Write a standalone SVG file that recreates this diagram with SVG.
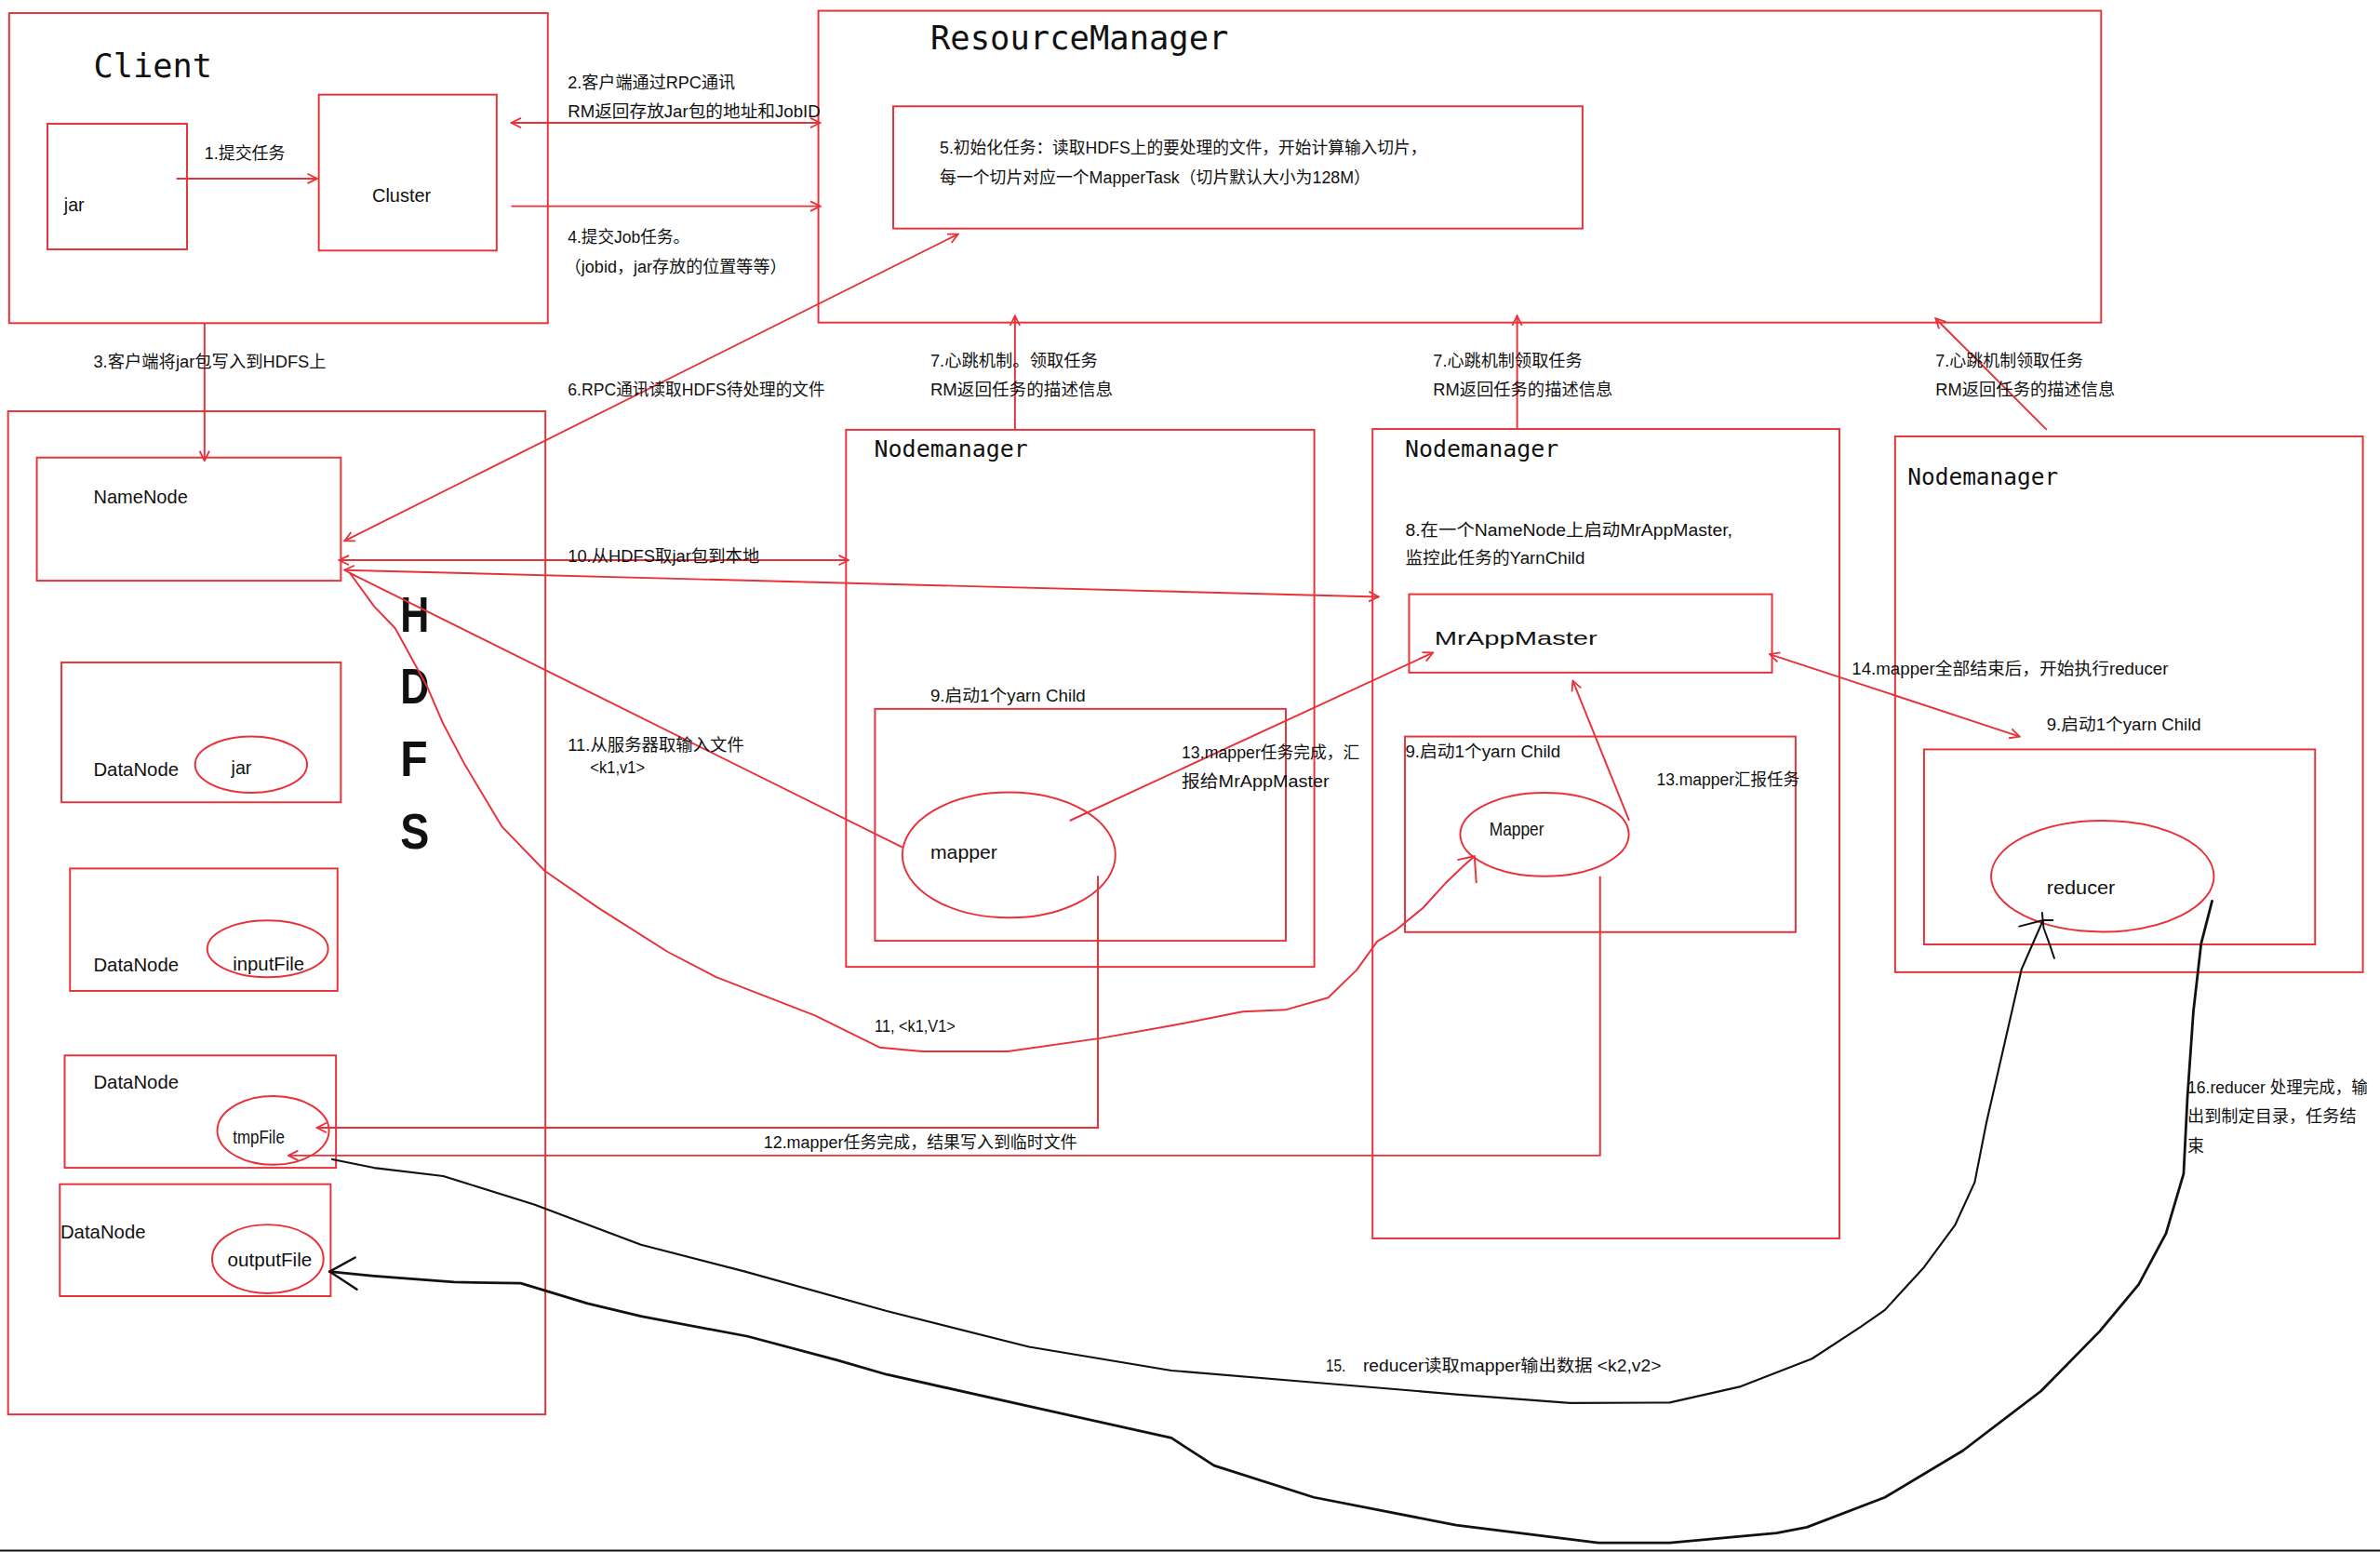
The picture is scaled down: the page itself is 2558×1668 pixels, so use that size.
<svg xmlns="http://www.w3.org/2000/svg" width="2558" height="1668" viewBox="0 0 2558 1668">
<defs>
<style>
.bx{fill:none;stroke:#e8323a;stroke-width:1.2}
.el{fill:none;stroke:#e8323a;stroke-width:1.2}
.ln{fill:none;stroke:#e8323a;stroke-width:1.2}
.bk{fill:none;stroke:#111;stroke-linejoin:round;stroke-linecap:round}
.lb{font-family:"Liberation Sans","Noto Sans CJK SC",sans-serif;font-size:11px;fill:#111}
.nd{font-family:"Liberation Sans","Noto Sans CJK SC",sans-serif;font-size:12px;fill:#111}
.tt{font-family:"DejaVu Sans Mono","Liberation Mono",monospace;fill:#111}
.hd{font-family:"Liberation Sans",sans-serif;font-size:33px;font-weight:bold;fill:#111}
</style>
<marker id="ah" viewBox="0 0 10 10" refX="9" refY="5" markerWidth="8" markerHeight="8" markerUnits="userSpaceOnUse" orient="auto-start-reverse">
<path d="M1,1 L9,5 L1,9" fill="none" stroke="#e8323a" stroke-width="1.4"/>
</marker>
</defs>
<rect x="0" y="0" width="2558" height="1668" fill="#fff"/>
<g transform="scale(1.6355 1.6321)">
<g id="client">
<rect class="bx" x="6" y="8.6" width="354" height="204.2"/>
<text class="tt" x="61.4" y="51" font-size="22" textLength="78" lengthAdjust="spacingAndGlyphs">Client</text>
</g>
<g id="jar-box">
<rect class="bx" x="31.2" y="81.5" width="91.7" height="82.7"/>
<text class="nd" x="42.1" y="138.9">jar</text>
</g>
<g id="cluster">
<rect class="bx" x="209.5" y="62.3" width="116.9" height="102.7"/>
<text class="nd" x="244.6" y="132.8" textLength="38.6" lengthAdjust="spacingAndGlyphs">Cluster</text>
</g>
<g id="resourcemanager">
<rect class="bx" x="537.8" y="7.1" width="843" height="205.3"/>
<text class="tt" x="611.4" y="32.7" font-size="22" textLength="196" lengthAdjust="spacingAndGlyphs">ResourceManager</text>
</g>
<g id="rm-init">
<rect class="bx" x="587" y="70" width="453" height="80.5"/>
<text class="lb" x="617.6" y="101" textLength="320" lengthAdjust="spacingAndGlyphs">5.初始化任务：读取HDFS上的要处理的文件，开始计算输入切片，</text>
<text class="lb" x="617.6" y="120.5" textLength="283" lengthAdjust="spacingAndGlyphs">每一个切片对应一个MapperTask（切片默认大小为128M）</text>
</g>
<g id="hdfs">
<rect class="bx" x="5.3" y="270.8" width="353.1" height="660.6"/>
<text class="hd" x="263" y="416" textLength="19" lengthAdjust="spacingAndGlyphs">H</text>
<text class="hd" x="263" y="463" textLength="19" lengthAdjust="spacingAndGlyphs">D</text>
<text class="hd" x="263" y="511" textLength="18" lengthAdjust="spacingAndGlyphs">F</text>
<text class="hd" x="263" y="559" textLength="19" lengthAdjust="spacingAndGlyphs">S</text>
</g>
<g id="namenode">
<rect class="bx" x="24.2" y="301.3" width="199.8" height="81.1"/>
<text class="nd" x="61.4" y="331.3" textLength="62" lengthAdjust="spacingAndGlyphs">NameNode</text>
</g>
<g id="datanode1">
<rect class="bx" x="40.4" y="436.2" width="183.6" height="92.1"/>
<text class="nd" x="61.4" y="511" textLength="56" lengthAdjust="spacingAndGlyphs">DataNode</text>
<ellipse class="el" cx="165" cy="503.5" rx="36.8" ry="18.5"/>
<text class="nd" x="152" y="510">jar</text>
</g>
<g id="datanode2">
<rect class="bx" x="46" y="571.9" width="175.8" height="80.6"/>
<text class="nd" x="61.4" y="639.7" textLength="56" lengthAdjust="spacingAndGlyphs">DataNode</text>
<ellipse class="el" cx="175.9" cy="624.8" rx="39.7" ry="18.7"/>
<text class="nd" x="153" y="639" textLength="47" lengthAdjust="spacingAndGlyphs">inputFile</text>
</g>
<g id="datanode3">
<rect class="bx" x="42.5" y="695" width="178.3" height="74"/>
<text class="nd" x="61.4" y="717" textLength="56" lengthAdjust="spacingAndGlyphs">DataNode</text>
<ellipse class="el" cx="179.5" cy="744.4" rx="36.7" ry="22.6"/>
<text class="nd" x="153" y="752.8" font-size="10" textLength="34" lengthAdjust="spacingAndGlyphs">tmpFile</text>
</g>
<g id="datanode4">
<rect class="bx" x="39.3" y="779.8" width="178" height="73.7"/>
<text class="nd" x="39.7" y="815.3" textLength="56" lengthAdjust="spacingAndGlyphs">DataNode</text>
<ellipse class="el" cx="176" cy="829" rx="36.6" ry="22.6"/>
<text class="nd" x="149.5" y="834.2" textLength="55.5" lengthAdjust="spacingAndGlyphs">outputFile</text>
</g>
<g id="nodemanager1">
<rect class="bx" x="556" y="283" width="307.7" height="353.7"/>
<text class="tt" x="574.5" y="300.8" font-size="15.5" textLength="101" lengthAdjust="spacingAndGlyphs">Nodemanager</text>
<text class="lb" x="611.4" y="461.9" textLength="102" lengthAdjust="spacingAndGlyphs">9.启动1个yarn Child</text>
<rect class="bx" x="575" y="466.8" width="270" height="152.7"/>
</g>
<g id="mapper1">
<ellipse class="el" cx="663" cy="563" rx="70" ry="41.3"/>
<text class="nd" x="611.4" y="565.5" font-size="13" textLength="44" lengthAdjust="spacingAndGlyphs">mapper</text>
</g>
<g id="nodemanager2">
<rect class="bx" x="902" y="282.5" width="306.8" height="533"/>
<text class="tt" x="923.3" y="300.8" font-size="15.5" textLength="101" lengthAdjust="spacingAndGlyphs">Nodemanager</text>
<text class="lb" x="923.5" y="352.8" textLength="215" lengthAdjust="spacingAndGlyphs">8.在一个NameNode上启动MrAppMaster,</text>
<text class="lb" x="923.5" y="371.5" textLength="118" lengthAdjust="spacingAndGlyphs">监控此任务的YarnChild</text>
<rect class="bx" x="923.3" y="485" width="256.7" height="128.8"/>
<text class="lb" x="923.5" y="499" textLength="102" lengthAdjust="spacingAndGlyphs">9.启动1个yarn Child</text>
</g>
<g id="mrappmaster">
<rect class="bx" x="926" y="391.3" width="238.5" height="51.6"/>
<text class="nd" x="942.7" y="424.4" font-size="18" textLength="107" lengthAdjust="spacingAndGlyphs">MrAppMaster</text>
</g>
<g id="mapper2">
<ellipse class="el" cx="1015" cy="549.5" rx="55.4" ry="27.5"/>
<text class="nd" x="978.7" y="550.5" font-size="10.5" textLength="36" lengthAdjust="spacingAndGlyphs">Mapper</text>
</g>
<g id="nodemanager3">
<rect class="bx" x="1245.4" y="287.4" width="307.4" height="352.8"/>
<text class="tt" x="1253.6" y="319.5" font-size="15.5" textLength="99" lengthAdjust="spacingAndGlyphs">Nodemanager</text>
<text class="lb" x="1345" y="481" textLength="101.5" lengthAdjust="spacingAndGlyphs">9.启动1个yarn Child</text>
<rect class="bx" x="1264.4" y="493.5" width="257" height="128.4"/>
</g>
<g id="reducer">
<ellipse class="el" cx="1381.7" cy="577" rx="73.2" ry="36.6"/>
<text class="nd" x="1345" y="588.6" font-size="13" textLength="45" lengthAdjust="spacingAndGlyphs">reducer</text>
</g>
<g id="connectors">
<line class="ln" x1="116" y1="117.6" x2="208.5" y2="117.6" marker-end="url(#ah)"/>
<line class="ln" x1="336" y1="80.9" x2="539" y2="80.9" marker-start="url(#ah)" marker-end="url(#ah)"/>
<line class="ln" x1="336" y1="135.8" x2="539" y2="135.8" marker-end="url(#ah)"/>
<line class="ln" x1="134.4" y1="212.8" x2="134.4" y2="303.4" marker-end="url(#ah)"/>
<line class="ln" x1="226.4" y1="356.2" x2="629.6" y2="154.2" marker-start="url(#ah)" marker-end="url(#ah)"/>
<line class="ln" x1="222.9" y1="368.9" x2="557.6" y2="368.9" marker-start="url(#ah)" marker-end="url(#ah)"/>
<line class="ln" x1="226.4" y1="375.4" x2="906" y2="393" marker-start="url(#ah)" marker-end="url(#ah)"/>
<line class="ln" x1="229.9" y1="377.3" x2="593" y2="558"/>
<line class="ln" x1="667" y1="283" x2="667" y2="208" marker-end="url(#ah)"/>
<line class="ln" x1="997" y1="283" x2="997" y2="208" marker-end="url(#ah)"/>
<line class="ln" x1="1345" y1="283" x2="1272" y2="209.7" marker-end="url(#ah)"/>
<line class="ln" x1="703" y1="540.4" x2="941.7" y2="429.8" marker-end="url(#ah)"/>
<line class="ln" x1="1070.6" y1="540.4" x2="1033.6" y2="448.3" marker-end="url(#ah)"/>
<line class="ln" x1="1163" y1="430.8" x2="1327.2" y2="485" marker-start="url(#ah)" marker-end="url(#ah)"/>
<polyline class="ln" points="721.5,576.7 721.5,742.6 208.2,742.6" marker-end="url(#ah)"/>
<polyline class="ln" points="1051.5,577 1051.5,760.9 189.5,760.9" marker-end="url(#ah)"/>
<polyline class="ln" stroke-linejoin="round" points="229.9,377.3 245.7,399.1 259.7,413.7 270.3,433 280.8,452.4 291.3,476.7 305.4,503.4 330,544.5 358,573.5 393.1,597.8 438.8,626.8 470.3,643.3 489.1,650.6 535.9,668.9 578,689.7 606.1,692.4 662.2,692.4 723,683.7 769.8,675.4 816.6,666.2 844.7,665 872.8,657 891.5,638.8 905,620 918,612 935,598 950,581.5 962,570 969,563.8"/>
<path class="ln" d="M957.7,566.2 L969,563.8 L970.2,581.5"/>
<polyline class="bk" stroke-width="1.3" points="218.3,763.4 245.7,769 291.3,774.5 351,793.1 421.2,819.6 489.1,837.2 582.7,863.3 676.2,886.9 769.8,902.5 863.4,910.3 956.9,918.2 1031.8,923.9 1097.3,923.6 1144,913 1190.8,894.7 1222.9,873.7 1238.7,862.6 1264.4,834.5 1284.9,806.5 1297.7,778.5 1305.4,739.2 1315.7,694.2 1328.5,638.2 1342.6,606"/>
<path class="bk" stroke-width="1.2" d="M1327,610 L1342.6,606 L1349,606 M1342,601 L1343,611 L1347,622 L1350,631"/>
<polyline class="bk" stroke-width="1.7" points="1453.7,593.3 1446.5,621.4 1441.4,666.3 1437.5,722.4 1435,772.9 1423.4,812.2 1405.5,845.8 1379.8,876.7 1341.3,916 1290,955.2 1238.7,986 1187.4,1005.7 1167.5,1009.5 1097.3,1016 1050.4,1016 956.9,1004.3 863.4,986 797.9,965.1 769.8,946.9 676.2,926 582.7,905.1 550.3,895.7 491.4,880 421.2,866.8 386.1,858.3 342.2,845 298.4,844.3 245.7,840.2 216.6,837.3"/>
<path class="bk" stroke-width="1.5" d="M233.4,828.1 L216.6,837.3 L234.5,849.1"/>
</g>
<g id="edge-labels">
<text class="lb" x="134.4" y="104.6" textLength="53" lengthAdjust="spacingAndGlyphs">1.提交任务</text>
<text class="lb" x="373.1" y="58.2" textLength="110" lengthAdjust="spacingAndGlyphs">2.客户端通过RPC通讯</text>
<text class="lb" x="373.1" y="77.2" textLength="166" lengthAdjust="spacingAndGlyphs">RM返回存放Jar包的地址和JobID</text>
<text class="lb" x="373.1" y="159.7" textLength="80" lengthAdjust="spacingAndGlyphs">4.提交Job任务。</text>
<text class="lb" x="371" y="179.3" textLength="146" lengthAdjust="spacingAndGlyphs">（jobid，jar存放的位置等等）</text>
<text class="lb" x="61.4" y="242" textLength="153" lengthAdjust="spacingAndGlyphs">3.客户端将jar包写入到HDFS上</text>
<text class="lb" x="373.1" y="260.4" textLength="169" lengthAdjust="spacingAndGlyphs">6.RPC通讯读取HDFS待处理的文件</text>
<text class="lb" x="373.1" y="370.1" textLength="126" lengthAdjust="spacingAndGlyphs">10.从HDFS取jar包到本地</text>
<text class="lb" x="373.1" y="494.3" textLength="116" lengthAdjust="spacingAndGlyphs">11.从服务器取输入文件</text>
<text class="lb" x="387.8" y="509.4" font-size="10" textLength="36" lengthAdjust="spacingAndGlyphs">&lt;k1,v1&gt;</text>
<text class="lb" x="611.4" y="241.6" textLength="110" lengthAdjust="spacingAndGlyphs">7.心跳机制。领取任务</text>
<text class="lb" x="611.4" y="260.4" textLength="120" lengthAdjust="spacingAndGlyphs">RM返回任务的描述信息</text>
<text class="lb" x="941.8" y="241.6" textLength="98" lengthAdjust="spacingAndGlyphs">7.心跳机制领取任务</text>
<text class="lb" x="941.8" y="260.4" textLength="118" lengthAdjust="spacingAndGlyphs">RM返回任务的描述信息</text>
<text class="lb" x="1272" y="241.7" textLength="97" lengthAdjust="spacingAndGlyphs">7.心跳机制领取任务</text>
<text class="lb" x="1272" y="260.6" textLength="118" lengthAdjust="spacingAndGlyphs">RM返回任务的描述信息</text>
<text class="lb" x="776.5" y="499.4" textLength="117" lengthAdjust="spacingAndGlyphs">13.mapper任务完成，汇</text>
<text class="lb" x="776.5" y="518.6" textLength="97" lengthAdjust="spacingAndGlyphs">报给MrAppMaster</text>
<text class="lb" x="1088.6" y="517" textLength="94" lengthAdjust="spacingAndGlyphs">13.mapper汇报任务</text>
<text class="lb" x="1216.9" y="444.5" textLength="208" lengthAdjust="spacingAndGlyphs">14.mapper全部结束后，开始执行reducer</text>
<text class="lb" x="574.8" y="679.3" font-size="10" textLength="53" lengthAdjust="spacingAndGlyphs">11, &lt;k1,V1&gt;</text>
<text class="lb" x="501.8" y="756.3" textLength="206" lengthAdjust="spacingAndGlyphs">12.mapper任务完成，结果写入到临时文件</text>
<text class="lb" x="871.3" y="903" textLength="13" lengthAdjust="spacingAndGlyphs">15.</text>
<text class="lb" x="895.7" y="903" textLength="196" lengthAdjust="spacingAndGlyphs">reducer读取mapper输出数据 &lt;k2,v2&gt;</text>
<text class="lb" x="1437.5" y="720.1" textLength="118.5" lengthAdjust="spacingAndGlyphs">16.reducer 处理完成，输</text>
<text class="lb" x="1437.5" y="739.2" textLength="111" lengthAdjust="spacingAndGlyphs">出到制定目录，任务结</text>
<text class="lb" x="1437.5" y="758.8">束</text>
</g>
</g>
<line x1="0" y1="1666.5" x2="2558" y2="1666.5" stroke="#111" stroke-width="2"/>
</svg>
